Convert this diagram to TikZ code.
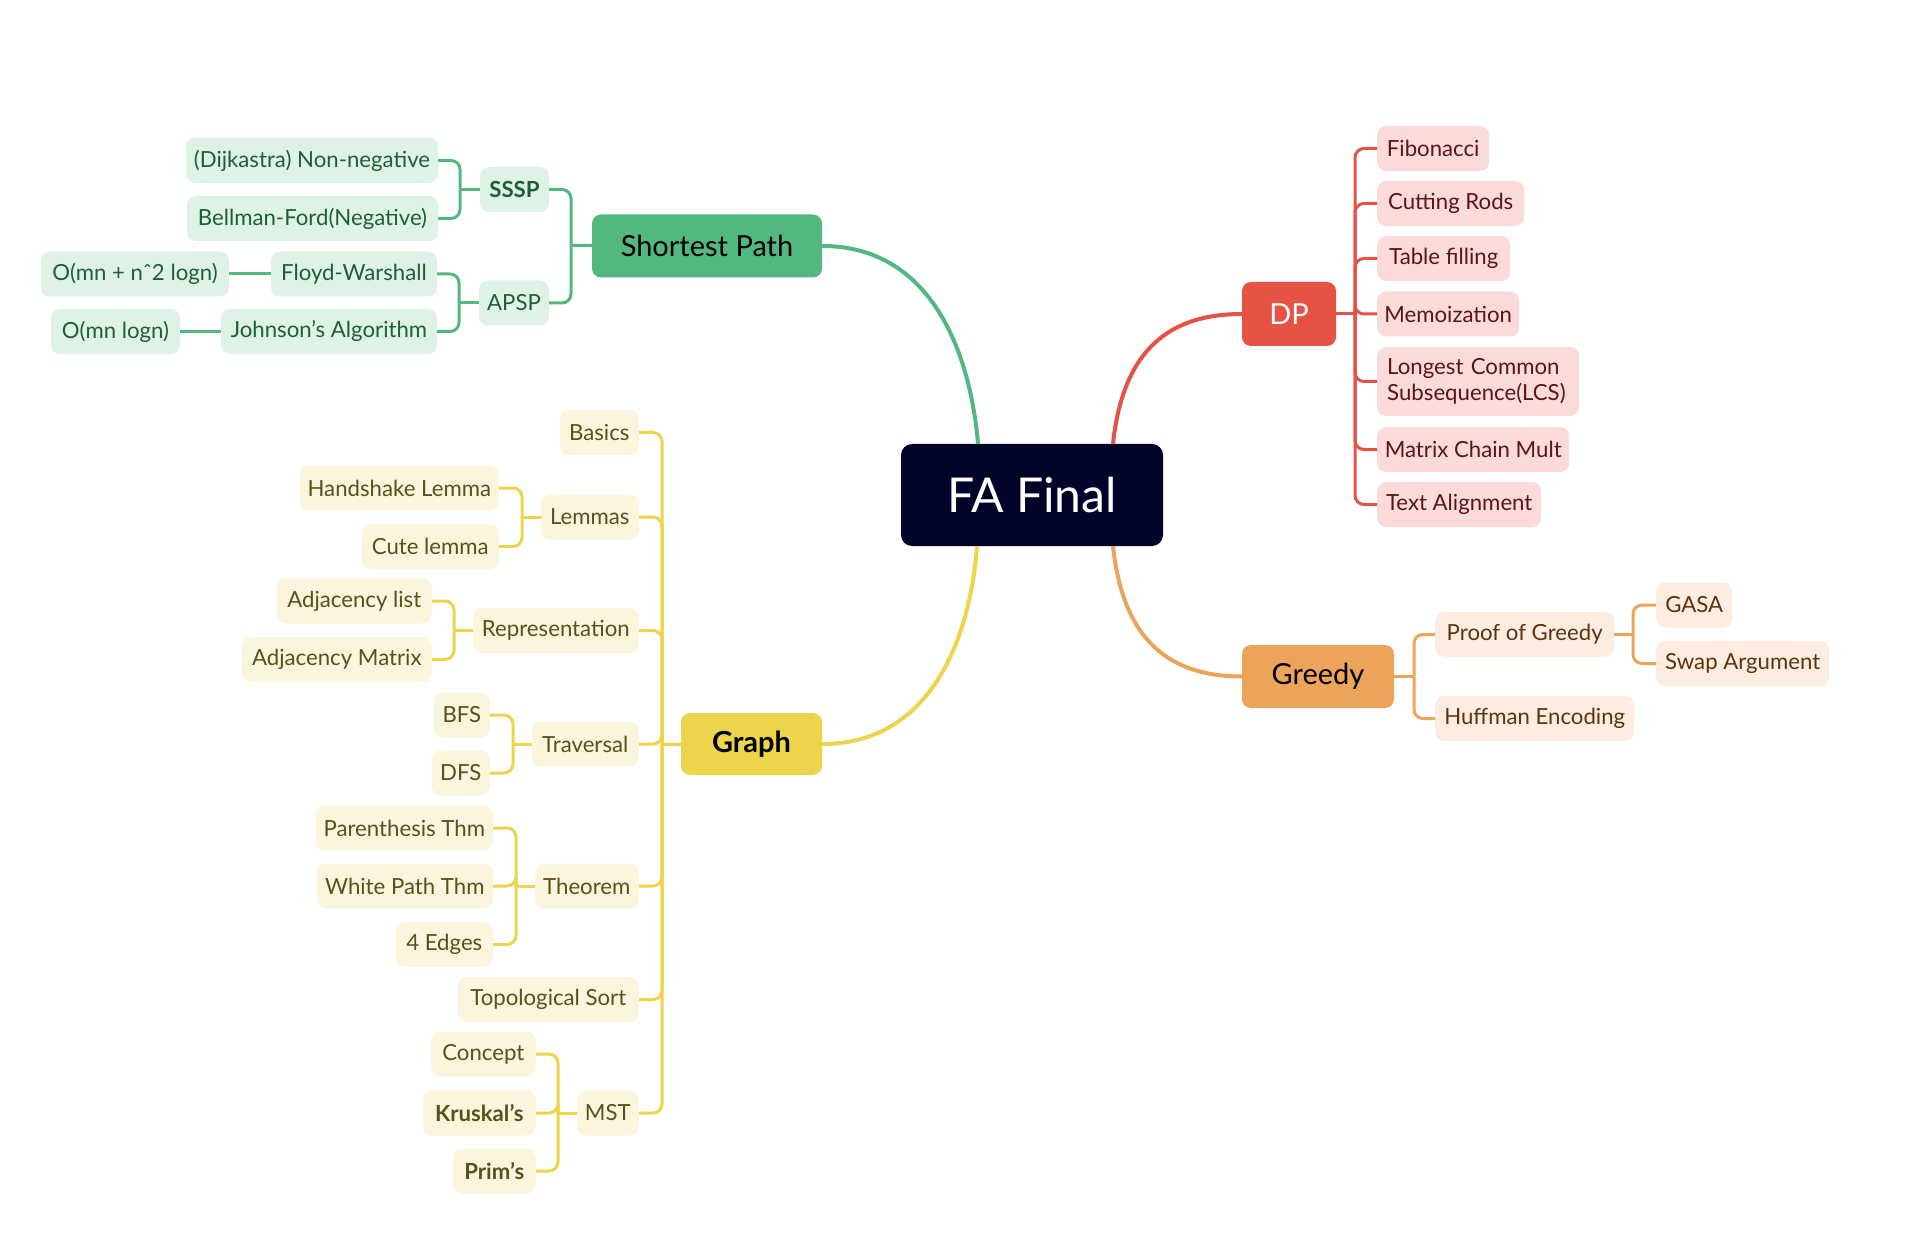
\documentclass[tikz,border=0pt]{standalone}
\usepackage{fontspec}
\setmainfont{Lato}
\usetikzlibrary{calc}

% branch palettes
\definecolor{rootFill}{HTML}{010328}
\definecolor{gMain}{HTML}{53B880}
\definecolor{gLight}{HTML}{DFF2E6}
\definecolor{gText}{HTML}{1F5E3B}
\definecolor{rMain}{HTML}{E65244}
\definecolor{rLight}{HTML}{FADBDA}
\definecolor{rText}{HTML}{5C1414}
\definecolor{oMain}{HTML}{ECA45B}
\definecolor{oLight}{HTML}{FCEDE0}
\definecolor{oText}{HTML}{5C3310}
\definecolor{yMain}{HTML}{EDD44A}
\definecolor{yLight}{HTML}{FCF5DE}
\definecolor{yText}{HTML}{5A5019}

\newcommand{\kidfont}{\fontsize{22.2}{26.5}\selectfont}
\newcommand{\mainfont}{\fontsize{29}{32}\selectfont}

\begin{document}
\begin{tikzpicture}[x=1pt,y=-1pt,
  rootbox/.style={fill=rootFill, text=white, rounded corners=11pt,
    minimum width=262pt, minimum height=102pt, inner sep=0pt,
    font=\fontsize{48}{52}\selectfont},
  mainbox/.style={rounded corners=9pt, minimum height=63pt, inner sep=0pt,
    font=\mainfont},
  kid/.style={rounded corners=9pt, minimum height=45pt, inner xsep=3pt,
    inner ysep=0pt, font=\kidfont},
  gkid/.style={kid, fill=gLight, text=gText},
  rkid/.style={kid, fill=rLight, text=rText},
  okid/.style={kid, fill=oLight, text=oText},
  ykid/.style={kid, fill=yLight, text=yText},
  link/.style={line width=3pt, rounded corners=9pt},
  gline/.style={link, draw=gMain},
  rline/.style={link, draw=rMain},
  oline/.style={link, draw=oMain},
  yline/.style={link, draw=yMain},
  trunk/.style={line width=4pt},
]
\path[use as bounding box] (0,0) rectangle (1920,1246);

% ---------- root ----------
\node[rootbox] (fa) at (1032,495) {FA Final};

% ---------- Shortest Path ----------
\node[mainbox, fill=gMain, text=black, minimum width=230pt] (sp) at (707,246) {Shortest Path};
\node[gkid, minimum width=69pt, font=\kidfont\bfseries] (sssp) at (514.5,189.5) {SSSP};
\node[gkid, minimum width=70pt] (apsp) at (514,303) {APSP};
\node[gkid, minimum width=252pt] (dij) at (312,160.5) {(Dijkastra) Non-negative};
\node[gkid, minimum width=251pt] (bell) at (312.5,218.5) {Bellman-Ford(Negative)};
\node[gkid, minimum width=166pt] (floyd) at (354,274) {Floyd-Warshall};
\node[gkid, minimum width=188pt] (cfloyd) at (135,274) {O(mn + nˆ2 logn)};
\node[gkid, minimum width=216pt] (john) at (329,331.5) {Johnson’s Algorithm};
\node[gkid, minimum width=129pt] (cjohn) at (115.5,331.5) {O(mn logn)};

\coordinate (spB) at (571,246);
\coordinate (ssspB) at (460,189.5);
\coordinate (apspB) at (459,303);
\draw[gline] (sp.west) -- (spB);
\draw[gline] (spB) |- (sssp.east);
\draw[gline] (spB) |- (apsp.east);
\draw[gline] (sssp.west) -- (ssspB);
\draw[gline] (ssspB) |- (dij.east);
\draw[gline] (ssspB) |- (bell.east);
\draw[gline] (apsp.west) -- (apspB);
\draw[gline] (apspB) |- (floyd.east);
\draw[gline] (apspB) |- (john.east);
\draw[gline] (floyd.west) -- (cfloyd.east);
\draw[gline] (john.west) -- (cjohn.east);

% ---------- DP ----------
\node[mainbox, fill=rMain, text=white, minimum width=94pt, minimum height=64pt] (dp) at (1289,314) {DP};
\node[rkid, anchor=west, minimum width=112pt] (fib) at (1377,148.5) {Fibonacci};
\node[rkid, anchor=west, minimum width=147pt] (rods) at (1377,203.5) {Cutting Rods};
\node[rkid, anchor=west, minimum width=133pt] (table) at (1377,258.5) {Table filling};
\node[rkid, anchor=west, minimum width=142pt] (memo) at (1377,314) {Memoization};
\node[rkid, anchor=west, inner xsep=10pt, text width=182pt, minimum height=69pt, align=left] (lcs) at (1377,381.5) {Longest Common\\Subsequence(LCS)};
\node[rkid, anchor=west, minimum width=192pt] (chain) at (1377,449.5) {Matrix Chain Mult};
\node[rkid, anchor=west, minimum width=164pt] (align) at (1377,504.5) {Text Alignment};

\coordinate (dpB) at (1355,314);
\draw[rline] (dp.east) -- (dpB);
\foreach \k in {fib,rods,table,memo,lcs,chain,align}
  \draw[rline] (dpB) |- (\k.west);

% ---------- Greedy ----------
\node[mainbox, fill=oMain, text=black, minimum width=152pt] (greedy) at (1318,676.5) {Greedy};
\node[okid, anchor=west, minimum width=179pt] (proof) at (1435,634.5) {Proof of Greedy};
\node[okid, anchor=west, minimum width=199pt] (huff) at (1435,718.5) {Huffman Encoding};
\node[okid, anchor=west, minimum width=76pt] (gasa) at (1656,605) {GASA};
\node[okid, anchor=west, minimum width=173pt] (swap) at (1656,663.5) {Swap Argument};

\coordinate (greedyB) at (1414,676.5);
\coordinate (proofB) at (1633,634.5);
\draw[oline] (greedy.east) -- (greedyB);
\draw[oline] (greedyB) |- (proof.west);
\draw[oline] (greedyB) |- (huff.west);
\draw[oline] (proof.east) -- (proofB);
\draw[oline] (proofB) |- (gasa.west);
\draw[oline] (proofB) |- (swap.west);

% ---------- Graph ----------
\node[mainbox, fill=yMain, text=black, minimum width=141pt, minimum height=62pt,
  font=\mainfont\bfseries] (graph) at (751.5,744) {Graph};
\node[ykid, anchor=east, minimum width=79pt] (basics) at (639,432.5) {Basics};
\node[ykid, anchor=east, minimum width=98pt] (lemmas) at (639,517) {Lemmas};
\node[ykid, anchor=east, minimum width=166pt] (repr) at (639,630.5) {Representation};
\node[ykid, anchor=east, minimum width=107pt] (trav) at (639,744) {Traversal};
\node[ykid, anchor=east, minimum width=104pt] (thm) at (639,886) {Theorem};
\node[ykid, anchor=east, minimum width=181pt] (topo) at (639,999.5) {Topological Sort};
\node[ykid, anchor=east, minimum width=62pt] (mst) at (639,1113) {MST};

\node[ykid, anchor=east, minimum width=199pt] (hand) at (499,488) {Handshake Lemma};
\node[ykid, anchor=east, minimum width=137pt] (cute) at (499,546.5) {Cute lemma};
\node[ykid, anchor=east, minimum width=155pt] (adjl) at (432,601) {Adjacency list};
\node[ykid, anchor=east, minimum width=190pt] (adjm) at (432,659.5) {Adjacency Matrix};
\node[ykid, anchor=east, minimum width=56pt] (bfs) at (490,715) {BFS};
\node[ykid, anchor=east, minimum width=58pt] (dfs) at (490,773) {DFS};
\node[ykid, anchor=east, minimum width=177pt] (paren) at (493,828) {Parenthesis Thm};
\node[ykid, anchor=east, minimum width=176pt] (white) at (493,886) {White Path Thm};
\node[ykid, anchor=east, minimum width=97pt] (edges) at (493,944.5) {4 Edges};
\node[ykid, anchor=east, minimum width=105pt] (concept) at (536,1054) {Concept};
\node[ykid, anchor=east, minimum width=113pt, font=\kidfont\bfseries] (krus) at (536,1113) {Kruskal’s};
\node[ykid, anchor=east, minimum width=83pt, font=\kidfont\bfseries] (prim) at (536,1171) {Prim’s};

\coordinate (graphB) at (662,744);
\draw[yline] (graph.west) -- (graphB);
\foreach \k in {basics,lemmas,repr,trav,thm,topo,mst}
  \draw[yline] (graphB) |- (\k.east);

\coordinate (lemB) at (522,517);
\draw[yline] (lemmas.west) -- (lemB);
\draw[yline] (lemB) |- (hand.east);
\draw[yline] (lemB) |- (cute.east);

\coordinate (reprB) at (454,630.5);
\draw[yline] (repr.west) -- (reprB);
\draw[yline] (reprB) |- (adjl.east);
\draw[yline] (reprB) |- (adjm.east);

\coordinate (travB) at (513,744);
\draw[yline] (trav.west) -- (travB);
\draw[yline] (travB) |- (bfs.east);
\draw[yline] (travB) |- (dfs.east);

\coordinate (thmB) at (516,886);
\draw[yline] (thm.west) -- (thmB);
\draw[yline] (thmB) |- (paren.east);
\draw[yline] (thmB) |- (white.east);
\draw[yline] (thmB) |- (edges.east);

\coordinate (mstB) at (558,1113);
\draw[yline] (mst.west) -- (mstB);
\draw[yline] (mstB) |- (concept.east);
\draw[yline] (mstB) |- (krus.east);
\draw[yline] (mstB) |- (prim.east);

% ---------- root to main branches ----------
\draw[trunk, draw=gMain] ([xshift=-54pt]fa.north) .. controls (970,350) and (930,246) .. (sp.east);
\draw[trunk, draw=rMain] ([xshift=81pt]fa.north) .. controls (1122,360) and (1160,314) .. (dp.west);
\draw[trunk, draw=oMain] ([xshift=81pt]fa.south) .. controls (1122,630) and (1160,676.5) .. (greedy.west);
\draw[trunk, draw=yMain] ([xshift=-55pt]fa.south) .. controls (970,640) and (930,744) .. (graph.east);
\end{tikzpicture}
\end{document}
